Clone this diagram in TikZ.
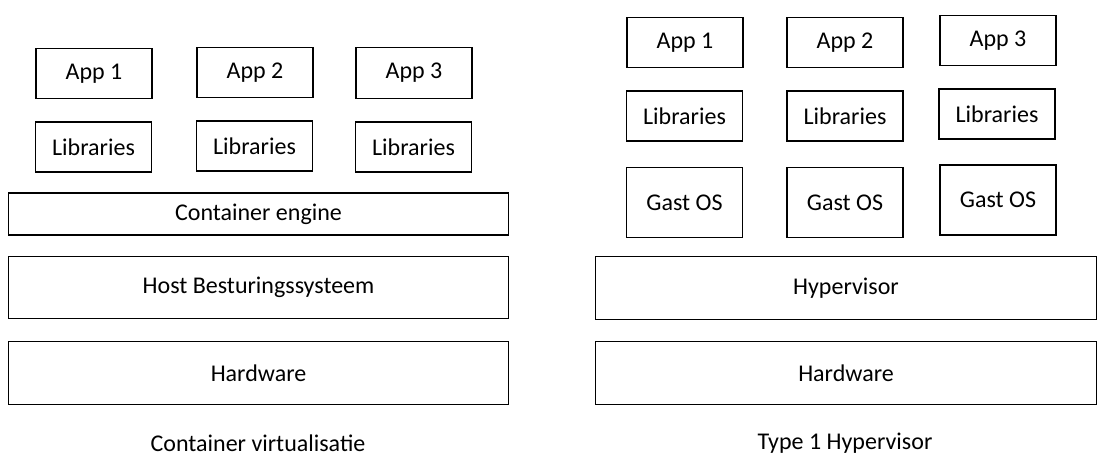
\documentclass[tikz,border=0pt]{standalone}
\usepackage{fontspec}
\setmainfont{Carlito}
\begin{document}
\begin{tikzpicture}[x=0.75pt, y=-0.75pt,
  every node/.style = {font=\fontsize{18}{20}\selectfont, align=center},
  box/.style = {draw, line width=0.9pt, inner sep=0pt},
  small/.style = {box, minimum width=87pt, minimum height=38pt},
  wide/.style = {box, minimum width=375.5pt, minimum height=47pt}]
  \useasboundingbox (0,0) rectangle (1101,462);
  % container virtualisatie
  \node[small] (lapp1) at (94,73.5) {App 1};
  \node[small] (lapp2) at (255,72.5) {App 2};
  \node[small] (lapp3) at (414,73) {App 3};
  \node[small, minimum height=37.5pt] (llib1) at (93.5,147) {Libraries};
  \node[small, minimum height=37.5pt] (llib2) at (254.5,146) {Libraries};
  \node[small, minimum height=37.5pt] (llib3) at (413.5,147) {Libraries};
  \node[wide, minimum height=31.5pt] (engine) at (258.5,214) {Container engine};
  \node[wide] (host) at (258.5,287.5) {Host Besturingssysteem};
  \node[wide] (lhw) at (258.5,373) {Hardware};
  \node (lcap) at (258,443) {Container virtualisatie};
  % type 1 hypervisor
  \node[small] (rapp1) at (685,42.5) {App 1};
  \node[small] (rapp2) at (845,42.5) {App 2};
  \node[small] (rapp3) at (998,40.5) {App 3};
  \node[small, minimum height=37.5pt] (rlib1) at (684.5,116) {Libraries};
  \node[small, minimum height=37.5pt] (rlib2) at (845,116) {Libraries};
  \node[small, minimum height=37.5pt] (rlib3) at (997,114) {Libraries};
  \node[small, minimum height=53pt] (gast1) at (684.5,202.5) {Gast OS};
  \node[small, minimum height=53pt] (gast2) at (845,202.5) {Gast OS};
  \node[small, minimum height=52.5pt] (gast3) at (998,200) {Gast OS};
  \node[wide] (hyp) at (846,288) {Hypervisor};
  \node[wide] (rhw) at (846,373) {Hardware};
  \node (rcap) at (845,443) {Type 1 Hypervisor};
\end{tikzpicture}
\end{document}
